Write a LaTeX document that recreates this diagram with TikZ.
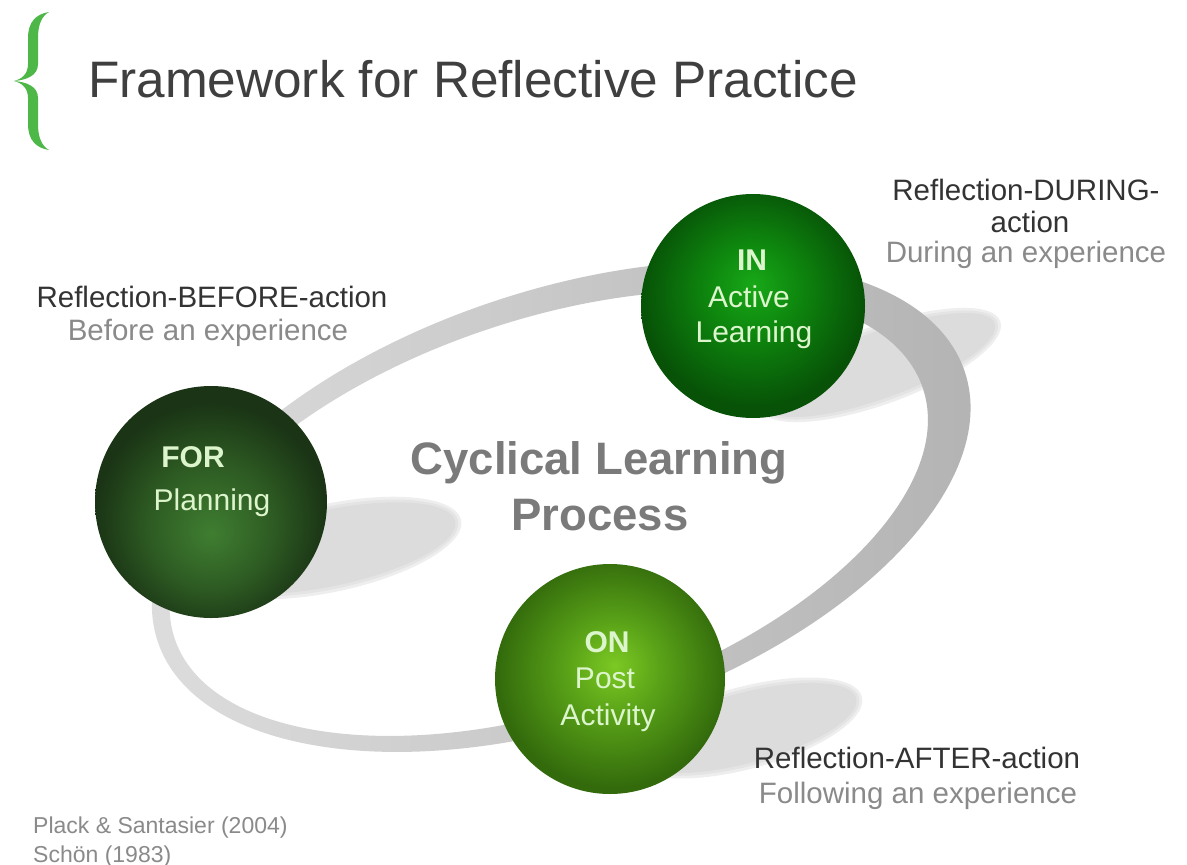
\documentclass[tikz,border=0pt]{standalone}
\usepackage{fontspec}
\setmainfont{Liberation Sans}
\definecolor{titlec}{HTML}{3F3F3F}
\definecolor{bracec}{HTML}{4DB848}
\definecolor{darktxt}{HTML}{333333}
\definecolor{lighttxt}{HTML}{8A8A8A}
\definecolor{cyctxt}{HTML}{7A7A7A}
\definecolor{balltxt}{HTML}{DDF5CC}
\definecolor{shadowc}{HTML}{DCDCDC}
\definecolor{shadowm}{HTML}{E4E4E4}
\definecolor{shadowe}{HTML}{EEEEEE}
\definecolor{ringL}{HTML}{DEDEDE}
\definecolor{ringR}{HTML}{B2B2B2}
\definecolor{forIn}{HTML}{3F7E31}
\definecolor{forMid}{HTML}{2E5C23}
\definecolor{forOut}{HTML}{1A3415}
\definecolor{inIn}{HTML}{18A818}
\definecolor{inMid}{HTML}{0E880E}
\definecolor{inOut}{HTML}{075207}
\definecolor{onIn}{HTML}{7CC823}
\definecolor{onMid}{HTML}{5AA318}
\definecolor{onOut}{HTML}{336B0C}
\pgfdeclareradialshading{forshade}{\pgfpoint{0bp}{-7bp}}{color(0bp)=(forIn); color(13bp)=(forMid); color(25bp)=(forOut); color(50bp)=(forOut)}
\pgfdeclareradialshading{inshade}{\pgfpoint{0bp}{5bp}}{color(0bp)=(inIn); color(10bp)=(inMid); color(25bp)=(inOut); color(50bp)=(inOut)}
\pgfdeclareradialshading{onshade}{\pgfpoint{1bp}{3bp}}{color(0bp)=(onIn); color(10bp)=(onMid); color(25bp)=(onOut); color(50bp)=(onOut)}
\tikzset{
  ball/.style={circle, inner sep=0pt, shade},
  lbl/.style={anchor=base, inner sep=0pt, text=darktxt, font=\fontsize{29.5}{33}\selectfont},
  sublbl/.style={lbl, text=lighttxt},
  balllbl/.style={anchor=base, inner sep=0pt, text=balltxt, font=\fontsize{30}{34}\selectfont},
  ballhead/.style={balllbl, font=\fontsize{30}{34}\selectfont\bfseries},
  cyc/.style={anchor=base, inner sep=0pt, text=cyctxt, font=\fontsize{45.5}{54}\selectfont\bfseries},
  cite/.style={anchor=base west, inner sep=0pt, text=lighttxt, font=\fontsize{23}{28}\selectfont}
}
\newcommand{\shadowblob}[4]{%
  \fill[shadowe, rotate around={#1:(#2)}] (#2) ellipse [x radius=#3+6, y radius=#4+6];
  \fill[shadowm, rotate around={#1:(#2)}] (#2) ellipse [x radius=#3+3, y radius=#4+3];
  \fill[shadowc, rotate around={#1:(#2)}] (#2) ellipse [x radius=#3, y radius=#4];
}
\begin{document}
\begin{tikzpicture}[x=1pt,y=-1pt]
\fill[white] (0,0) rectangle (1187,865);
\useasboundingbox (0,0) rectangle (1187,865);
% brace
\fill[bracec] (49,12) .. controls (36,14) and (28,22) .. (28,38) -- (28,64) .. controls (28,74) and (22,79) .. (14,81) .. controls (26,80) and (38,76) .. (38,64) -- (38,38) .. controls (38,24) and (42,16) .. (49,12) -- cycle;
\fill[bracec] (14,81) .. controls (22,83) and (28,88) .. (28,98) -- (28,124) .. controls (28,140) and (36,148) .. (49,150) .. controls (42,146) and (38,138) .. (38,124) -- (38,98) .. controls (38,86) and (26,82) .. (14,81) -- cycle;
\node (title) [anchor=base west, inner sep=0pt, text=titlec, font=\fontsize{51.3}{60}\selectfont] at (88,97) {Framework for Reflective Practice};
% shadows
\shadowblob{12}{330,548}{128}{38}
\shadowblob{20}{880,365}{122}{33}
\shadowblob{15}{745,728}{115}{35}
% ring
\shade[even odd rule, left color=ringL, right color=ringR, rotate around={18.5:(555,510)}]
  (562,508.75) ellipse [x radius=425.5, y radius=216]
  (548,511.25) ellipse [x radius=394.5, y radius=194];
% balls
\node (for) [ball, shading=forshade, minimum size=232pt] at (211,502) {};
\node (in) [ball, shading=inshade, minimum size=224pt] at (753,306) {};
\node (on) [ball, shading=onshade, minimum size=230pt] at (610,679) {};
\node (forA) [ballhead] at (193,467) {FOR};
\node (forB) [balllbl] at (212,510) {Planning};
\node (inA) [ballhead] at (752,270) {IN};
\node (inB) [balllbl] at (749,307) {Active};
\node (inC) [balllbl] at (754,342) {Learning};
\node (onA) [ballhead] at (607,652) {ON};
\node (onB) [balllbl] at (605,688) {Post};
\node (onC) [balllbl] at (608,725) {Activity};
% centre text
\node (cycA) [cyc] at (599,474) {Cyclical Learning};
\node (cycB) [cyc] at (600,530) {Process};
% side labels
\node (befA) [lbl] at (212,307) {Reflection-BEFORE-action};
\node (befB) [sublbl] at (208,340) {Before an experience};
\node (durA) [lbl] at (1026,200) {Reflection-DURING-};
\node (durB) [lbl] at (1030,232) {action};
\node (durC) [sublbl] at (1026,262) {During an experience};
\node (aftA) [lbl] at (917,768) {Reflection-AFTER-action};
\node (aftB) [sublbl] at (918,803) {Following an experience};
% citations
\node (citeA) [cite] at (33,833) {Plack \& Santasier (2004)};
\node (citeB) [cite] at (33,862) {Schön (1983)};
\end{tikzpicture}
\end{document}
